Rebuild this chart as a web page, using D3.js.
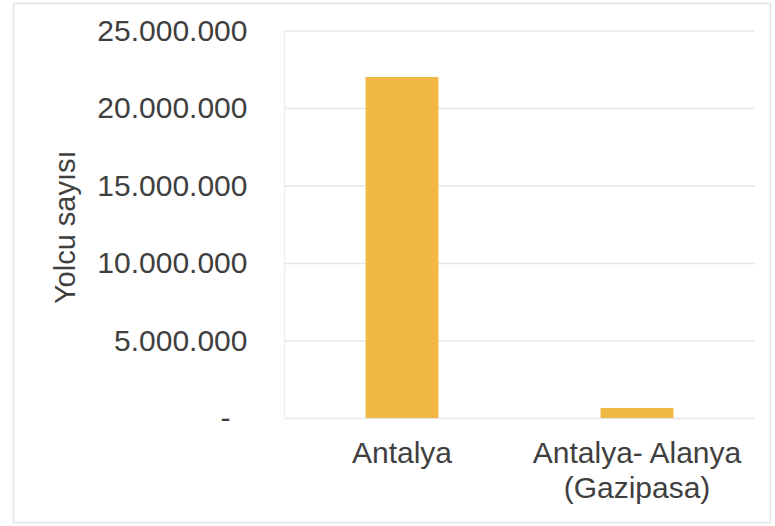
<meta charset="utf-8">
<html>
  <head>
    <style>
      body { margin: 0; background: #fff; }
      .axis text {
        fill: #3f3f3f;
        font-size: 30px;
        font-family: Arial, "Liberation Sans", Helvetica, sans-serif;
      }
      .grid line { stroke: #e6e6e6; stroke-width: 1.3; }
      .axisLabel {
        fill: #3f3f3f;
        font-size: 29px;
        font-family: Arial, "Liberation Sans", Helvetica, sans-serif;
      }
    </style>
  </head>
<script src="https://d3js.org/d3.v7.min.js"></script>
<div id="my_dataviz"></div>
<script>

    // data
    var categories = ["Antalya", "Antalya- Alanya (Gazipasa)"];
    var categoryLines = [["Antalya"], ["Antalya- Alanya", "(Gazipasa)"]];
    var passengers = [22000000, 650000];
    var yTicks = [0, 5000000, 10000000, 15000000, 20000000, 25000000];
    var yTickLabels = ["-", "5.000.000", "10.000.000", "15.000.000", "20.000.000", "25.000.000"];

    var W = 775, H = 526;
    var margin = {top: 30.5, right: 20.5, bottom: 108, left: 284.5},
        width = W - margin.left - margin.right,
        height = H - margin.top - margin.bottom;

    var root = d3.select("#my_dataviz")
      .append("svg")
        .attr("width", W)
        .attr("height", H);

    // chart frame
    root.append("rect")
      .attr("x", 13.5).attr("y", 3.5)
      .attr("width", 757).attr("height", 519)
      .attr("fill", "none")
      .attr("stroke", "#e3e3e3")
      .attr("stroke-width", 1.5);

    var svg = root.append("g")
        .attr("transform", "translate(" + margin.left + "," + margin.top + ")");

    var x = d3.scaleBand()
      .domain(categories)
      .range([0, width])
      .paddingInner(0.69)
      .paddingOuter(0.345);

    var y = d3.scaleLinear()
      .domain([0, 25000000])
      .range([height, 0]);

    // gridlines
    svg.append("g")
      .attr("class", "grid")
      .call(d3.axisLeft(y).tickValues(yTicks).tickSize(-width).tickFormat(""))
      .call(g => g.select(".domain").remove());

    // faint plot edge on the left
    svg.append("line")
      .attr("x1", 0).attr("x2", 0)
      .attr("y1", 0).attr("y2", height)
      .attr("stroke", "#f0f0f0")
      .attr("stroke-width", 1.5);

    // y axis labels
    var yAxis = svg.append("g")
      .attr("class", "axis")
      .attr("transform", "translate(-34,0)")
      .call(d3.axisLeft(y).tickValues(yTicks).tickSize(0)
        .tickFormat(function(d, i) { return yTickLabels[i]; }));
    yAxis.select(".domain").remove();
    yAxis.selectAll("text")
      .filter(function(d) { return d === 0; })
      .attr("dx", "-17");

    svg.append("text")
      .attr("class", "axisLabel")
      .attr("transform", "rotate(-90)")
      .attr("x", -(height / 2) - 3)
      .attr("y", -210)
      .style("text-anchor", "middle")
      .text("Yolcu sayısı");

    // bars
    svg.selectAll("rect.bar")
      .data(passengers)
      .enter()
      .append("rect")
        .attr("class", "bar")
        .attr("x", function(d, i) { return x(categories[i]); })
        .attr("width", x.bandwidth())
        .attr("y", function(d) { return y(d); })
        .attr("height", function(d) { return height - y(d); })
        .attr("fill", "#f1b943");

    // x axis labels
    var xAxis = svg.append("g")
      .attr("class", "axis")
      .attr("transform", "translate(0," + height + ")")
      .call(d3.axisBottom(x).tickSize(0).tickFormat(""));
    xAxis.select(".domain").remove();
    xAxis.selectAll(".tick").append("text")
      .attr("y", 45)
      .style("text-anchor", "middle")
      .each(function(d) {
        var lines = categoryLines[categories.indexOf(d)];
        var t = d3.select(this);
        lines.forEach(function(l, k) {
          t.append("tspan").attr("x", 0).attr("dy", k === 0 ? 0 : 35).text(l);
        });
      });

</script>
</html>
